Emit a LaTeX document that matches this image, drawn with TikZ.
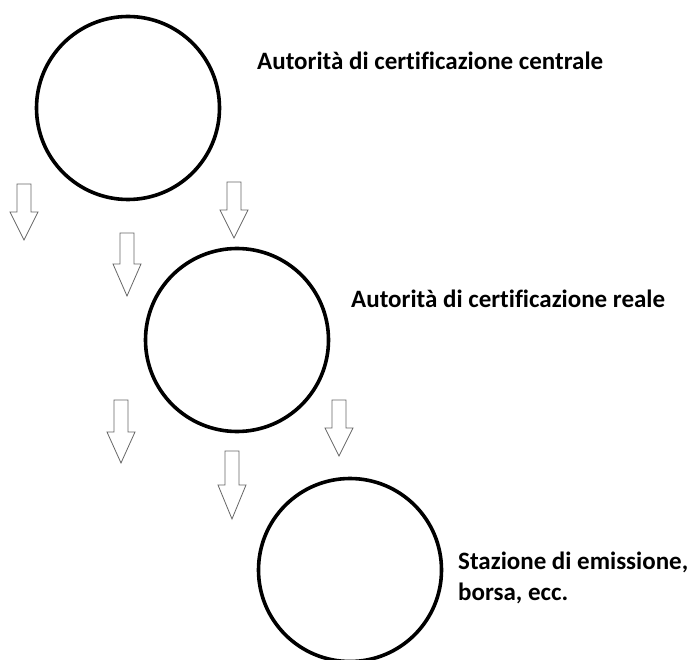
\documentclass[tikz,border=0pt]{standalone}
\usepackage{fontspec}
\setmainfont[Ligatures=CommonOff]{Carlito}
\colorlet{arrowgray}{black!60}

% hollow block arrow pointing down: x, top, start of head, tip
\newcommand{\DownArrow}[4]{%
  \draw[blockarrow] (#1-7,#2) -- (#1+7,#2) -- (#1+7,#3) -- (#1+14,#3)
    -- (#1,#4) -- (#1-14,#3) -- (#1-7,#3) -- cycle;}

\tikzset{
  authority/.style ={circle, draw, line width=3.6pt, minimum size=183pt, inner sep=0},
  caption/.style ={anchor=base west, inner sep=0, font=\fontsize{25}{31}\selectfont\bfseries, align=left},
  blockarrow/.style ={draw=arrowgray, line width=0.8pt, fill=white, line join=miter}
}

\begin{document}
\begin{tikzpicture}[x=1pt, y=-1pt]
\useasboundingbox (0,0) rectangle (691,660);
% the three levels
\node[authority] (central) at (128,108) {};
\node[authority] (reale) at (237,340) {};
\node[authority] (stazione) at (350,570) {};
\node[caption] (centralText) at (257,70) {Autorità di certificazione centrale};
\node[caption] (realeText) at (351,308) {Autorità di certificazione reale};
\node[caption] (stazioneText) at (458,600) {Stazione di emissione,\\borsa, ecc.};
% down arrows
\DownArrow{24}{184}{212}{240}
\DownArrow{234}{182}{210}{238}
\DownArrow{127}{233}{264}{296}
\DownArrow{121}{400}{432}{463}
\DownArrow{339}{400}{428}{456}
\DownArrow{232}{451}{485}{519}
\end{tikzpicture}
\end{document}
